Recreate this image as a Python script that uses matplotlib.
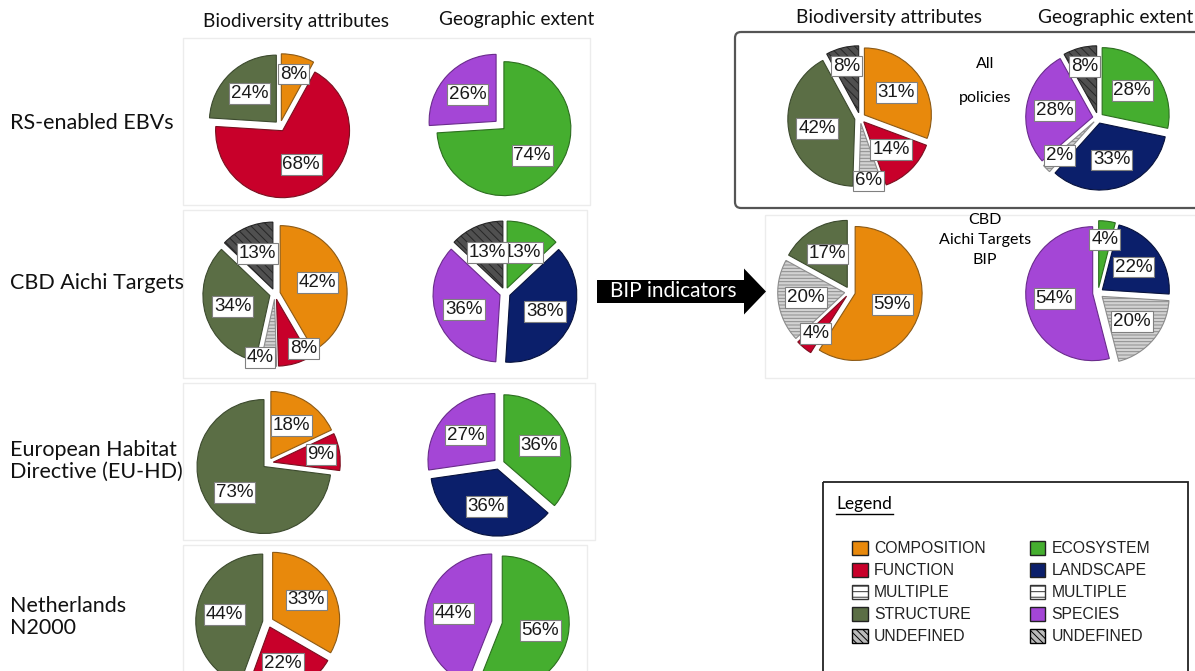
import numpy as np
import matplotlib.pyplot as plt
from matplotlib.patches import Rectangle, FancyBboxPatch, FancyArrow, Patch
from matplotlib.lines import Line2D

plt.rcParams['hatch.linewidth'] = 0.7

#------------------------- data -------------------------
bio_cats = ['COMPOSITION', 'FUNCTION', 'MULTIPLE', 'STRUCTURE', 'UNDEFINED']
geo_cats = ['ECOSYSTEM', 'LANDSCAPE', 'MULTIPLE', 'SPECIES', 'UNDEFINED']

rs_bio = [8, 68, 0, 24, 0]
rs_geo = [74, 0, 0, 26, 0]
cbd_bio = [42, 8, 4, 34, 13]
cbd_geo = [13, 38, 0, 36, 13]
euhd_bio = [18, 9, 0, 73, 0]
euhd_geo = [36, 36, 0, 27, 0]
n2000_bio = [33, 22, 0, 44, 0]
n2000_geo = [56, 0, 0, 44, 0]
all_bio = [31, 14, 6, 42, 8]
all_geo = [28, 33, 2, 28, 8]
bip_bio = [59, 4, 20, 17, 0]
bip_geo = [4, 22, 20, 54, 0]

row_names = ['RS-enabled EBVs', 'CBD Aichi Targets',
             'European Habitat\nDirective (EU-HD)', 'Netherlands\nN2000']

#------------------------- styles -------------------------
style = {
    'COMPOSITION': dict(fc='#E8890C', ec='#8c5a16', hatch=None),
    'FUNCTION':    dict(fc='#C8002A', ec='#7a1020', hatch=None),
    'MULTIPLE':    dict(fc='#d2d2d2', ec='#8c8c8c', hatch='-----'),
    'STRUCTURE':   dict(fc='#5B6E45', ec='#3c4a2e', hatch=None),
    'UNDEFINED':   dict(fc='#505050', ec='#262626', hatch='\\\\\\\\'),
    'ECOSYSTEM':   dict(fc='#45AE2F', ec='#2c6e1f', hatch=None),
    'LANDSCAPE':   dict(fc='#0B1F6B', ec='#07123d', hatch=None),
    'SPECIES':     dict(fc='#A446D6', ec='#6a2c8c', hatch=None),
}

W, H = 1195, 671
fig = plt.figure(figsize=(W/100, H/100), dpi=100)
bg = fig.add_axes([0, 0, 1, 1], zorder=0)
bg.set_xlim(0, W)
bg.set_ylim(H, 0)
bg.axis('off')

txt_font = ['Lato', 'DejaVu Sans']
lab_font = ['Liberation Sans', 'DejaVu Sans']

#faint panels
for (x0, y0, x1, y1) in [(183, 38, 590, 205), (183, 210, 587, 378),
                         (183, 383, 595, 540), (183, 545, 587, 680),
                         (765, 215, 1200, 378)]:
    bg.add_patch(Rectangle((x0, y0), x1-x0, y1-y0, fill=False,
                           ec='#ececec', lw=1))

#All policies box
bg.add_patch(FancyBboxPatch((735, 32), 480, 176,
                            boxstyle='round,pad=0,rounding_size=6',
                            fill=False, ec='#555555', lw=1.6))

#headers
for x, y, s in [(296, 21, 'Biodiversity attributes'), (517, 20, 'Geographic extent'),
                (889, 17, 'Biodiversity attributes'), (1116, 17, 'Geographic extent')]:
    bg.text(x, y, s, ha='center', va='center', fontsize=13.8, family=txt_font,
            color='#111111')

#row names
for y, s in zip([123, 283, 461, 617], row_names):
    bg.text(10, y, s, ha='left', va='center', fontsize=15.5, family=txt_font,
            color='#111111', linespacing=1.15)

bg.text(985, 64, 'All', ha='center', va='center', fontsize=11.5, family=txt_font)
bg.text(985, 98, 'policies', ha='center', va='center', fontsize=11.5, family=txt_font)
bg.text(985, 240, 'CBD\nAichi Targets\nBIP', ha='center', va='center',
        fontsize=11.5, family=txt_font, linespacing=1.55)

#arrow
bg.add_patch(FancyArrow(597, 291.5, 169, 0, width=23, head_width=46,
                        head_length=22, length_includes_head=True,
                        color='black', lw=0))
bg.text(673, 291, 'BIP indicators', ha='center', va='center', color='white',
        fontsize=15, family=txt_font)

#------------------------- pies -------------------------
def draw_pie(vals, cats, cx, cy):
    ax = fig.add_axes([(cx-75)/W, 1-(cy+75)/H, 150/W, 150/H], zorder=1)
    v = [x for x in vals if x > 0]
    c = [cats[i] for i, x in enumerate(vals) if x > 0]
    wedges, texts = ax.pie(v, labels=['%d%%' % x for x in v], startangle=90,
                           counterclock=False, explode=[0.08]*len(v),
                           labeldistance=0.58,
                           textprops=dict(fontsize=13.5, family=lab_font,
                                          color='#1a1a1a'),
                           wedgeprops=dict(linewidth=0.8))
    for w, name in zip(wedges, c):
        st = style[name]
        w.set_facecolor(st['fc'])
        w.set_edgecolor(st['ec'])
        if st['hatch']:
            w.set_hatch(st['hatch'])
    for w, t, x in zip(wedges, texts, v):
        t.set_ha('center')
        t.set_va('center')
        t.set_bbox(dict(boxstyle='square,pad=0.1', fc='white', ec='#808080', lw=0.8))
        t.set_zorder(5)
        if x < 10:
            #small slices: label a bit further out
            a = np.deg2rad((w.theta1 + w.theta2) / 2)
            cxw, cyw = w.center
            t.set_position((cxw + 0.72*np.cos(a), cyw + 0.72*np.sin(a)))
    ax.set_xlim(-1.12, 1.12)
    ax.set_ylim(-1.12, 1.12)
    ax.patch.set_alpha(0)
    return texts

draw_pie(rs_bio, bio_cats, 280, 126)
draw_pie(rs_geo, geo_cats, 500, 125)
tx = draw_pie(cbd_bio, bio_cats, 275, 294)
#spread the two small bottom labels like the reference
tx[1].set_position((tx[1].get_position()[0] + 0.2, tx[1].get_position()[1] - 0.05))
tx[2].set_position((tx[2].get_position()[0] - 0.15, tx[2].get_position()[1] - 0.15))
draw_pie(cbd_geo, geo_cats, 505, 293)
draw_pie(euhd_bio, bio_cats, 268, 463)
draw_pie(euhd_geo, geo_cats, 499, 464)
draw_pie(n2000_bio, bio_cats, 268, 622)
draw_pie(n2000_geo, geo_cats, 497, 622)
tx = draw_pie(all_bio, bio_cats, 860, 118)
tx[2].set_position((tx[2].get_position()[0], tx[2].get_position()[1] - 0.15))
draw_pie(all_geo, geo_cats, 1098, 118)
draw_pie(bip_bio, bio_cats, 850, 292)
draw_pie(bip_geo, geo_cats, 1098, 293)

#------------------------- legend -------------------------
bg.add_patch(Rectangle((823, 482), 365, 200, fill=False, ec='#222222', lw=1.3))
bg.text(836, 504, 'Legend', ha='left', va='center', fontsize=12.5,
        family=txt_font)
bg.add_line(Line2D([836, 893], [514, 514], color='black', lw=1))

leg_style = dict(style)
leg_style['MULTIPLE'] = dict(fc='white', ec='#333333', hatch='---')
leg_style['UNDEFINED'] = dict(fc='#bbbbbb', ec='black', hatch='\\\\\\\\\\')
handles, labels = [], []
for name in bio_cats + geo_cats:
    st = leg_style[name]
    ec = st['ec'] if st['hatch'] else '#222222'
    handles.append(Patch(fc=st['fc'], ec=ec, hatch=st['hatch'], lw=1))
    labels.append(name)
fig.legend(handles, labels, ncol=2, loc='upper left',
           bbox_to_anchor=(852/W, 1-541/H), frameon=False,
           prop=dict(family=lab_font, size=11.3), handlelength=1.0,
           handleheight=1.0, handletextpad=0.4, columnspacing=2.8,
           labelspacing=0.42, borderpad=0, borderaxespad=0,
           labelcolor='#222222')

plt.savefig('out.png', dpi=100)
